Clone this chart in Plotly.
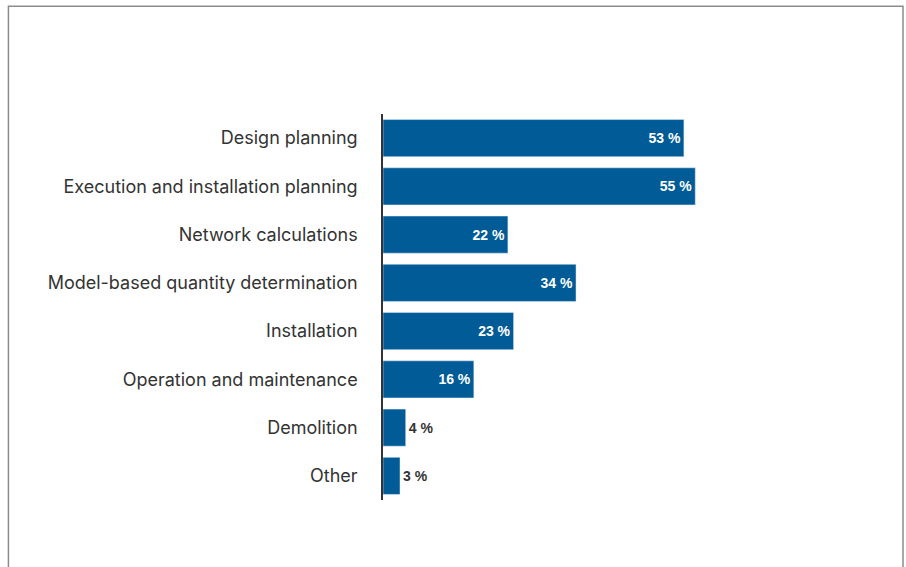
import plotly.graph_objects as go

categories = ['Design planning', 'Execution and installation planning', 'Network calculations',
              'Model-based quantity determination', 'Installation', 'Operation and maintenance',
              'Demolition', 'Other']
values = [53, 55, 22, 34, 23, 16, 4, 3]
labels = [f'{v} %' for v in values]

positions = ['inside' if v > 10 else 'outside' for v in values]
text_colors = ['white' if v > 10 else '#333333' for v in values]

fig = go.Figure(go.Bar(
    x=values,
    y=categories,
    orientation='h',
    marker_color='#005b97',
    width=0.77,
    text=labels,
    textposition=positions,
    insidetextanchor='end',
    textfont=dict(family='Arial, Liberation Sans, sans-serif', size=14, color=text_colors, weight=700),
    cliponaxis=False,
    hoverinfo='skip',
))

fig.update_layout(
    width=906, height=567,
    margin=dict(l=383, r=12, t=114, b=67),
    plot_bgcolor='white',
    paper_bgcolor='white',
    showlegend=False,
    font=dict(family='Inter, Noto Sans, sans-serif', color='#333333'),
    shapes=[dict(type='rect', xref='paper', yref='paper',
                 x0=-0.733, x1=1.0176, y0=-0.3, y1=1.279,
                 line=dict(color='#8c8c8c', width=1.5), layer='below')],
)
fig.update_xaxes(range=[0, 90], visible=False, showgrid=False)
fig.update_yaxes(autorange='reversed', showline=True, linecolor='#333333', linewidth=1.5,
                 showgrid=False, ticks='outside', ticklen=20, tickcolor='rgba(0,0,0,0)',
                 tickfont=dict(size=18, color='#333333'))

# page body has an 8px default margin, drop it so the figure sits at 0,0
fig.write_html("out.html", config={'displayModeBar': False},
               post_script="document.body.style.margin='0';")
